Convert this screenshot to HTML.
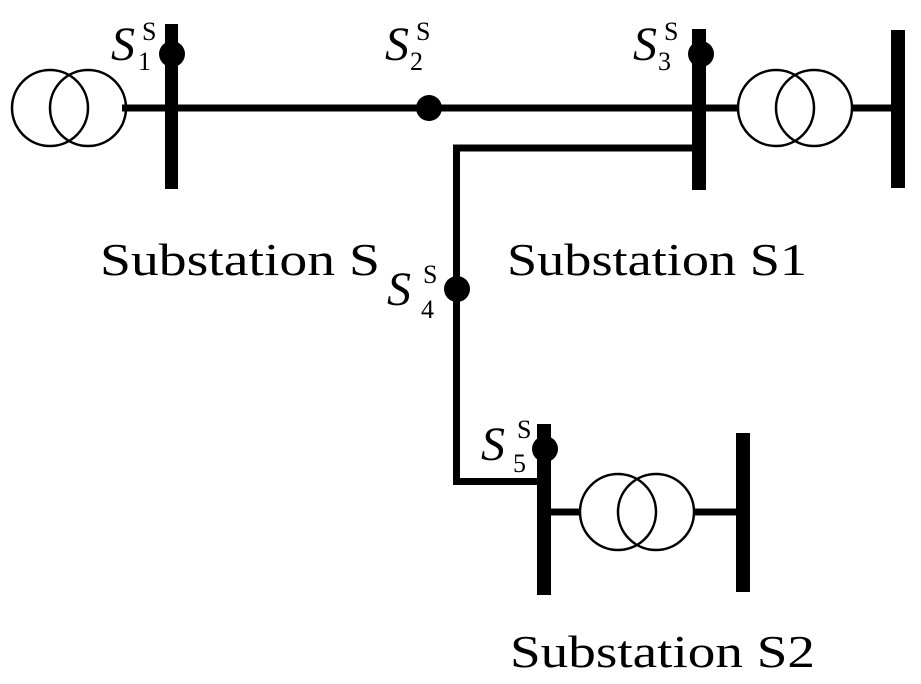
<!DOCTYPE html>
<html><head><style>body{margin:0;background:#fff}svg{display:block}</style></head><body>
<svg width="921" height="684" viewBox="0 0 921 684" xmlns="http://www.w3.org/2000/svg" font-family="Liberation Serif, serif">
<g fill="none" stroke="#000" stroke-width="2.5">
<circle cx="50" cy="108" r="38"/><circle cx="88" cy="108" r="38"/>
<circle cx="776" cy="108" r="38"/><circle cx="814" cy="108" r="38"/>
<circle cx="618" cy="512" r="38"/><circle cx="656" cy="512" r="38"/>
</g>
<g stroke="#000" stroke-width="7" fill="none">
<line x1="122" y1="108" x2="737" y2="108"/>
<line x1="852" y1="108" x2="893" y2="108"/>
<polyline points="692,148 456.5,148 456.5,481.5 540,481.5"/>
<line x1="550" y1="512" x2="581" y2="512"/>
<line x1="693" y1="512" x2="737" y2="512"/>
</g>
<g fill="#000">
<rect x="165" y="24" width="13" height="165"/>
<rect x="692" y="29" width="14" height="161"/>
<rect x="891" y="30" width="14" height="158"/>
<rect x="537" y="424" width="14" height="171"/>
<rect x="736" y="433" width="14" height="159"/>
<circle cx="172" cy="54" r="13"/>
<circle cx="429" cy="108" r="13"/>
<circle cx="701" cy="54" r="13"/>
<circle cx="457" cy="289" r="13"/>
<circle cx="545" cy="449" r="13"/>
</g>
<g fill="#000">
<text x="111" y="60" font-size="48" font-style="italic">S</text><text x="142" y="40" font-size="26">S</text><text x="138" y="70" font-size="26">1</text>
<text x="385" y="60" font-size="48" font-style="italic">S</text><text x="416" y="40" font-size="26">S</text><text x="410" y="70" font-size="26">2</text>
<text x="633" y="60" font-size="48" font-style="italic">S</text><text x="664" y="40" font-size="26">S</text><text x="658" y="70" font-size="26">3</text>
<text x="387" y="305" font-size="48" font-style="italic">S</text><text x="423" y="283" font-size="26">S</text><text x="421" y="318" font-size="26">4</text>
<text x="481" y="460" font-size="48" font-style="italic">S</text><text x="517" y="438" font-size="26">S</text><text x="513" y="472" font-size="26">5</text>
<text x="100" y="275" font-size="46" textLength="280" lengthAdjust="spacingAndGlyphs">Substation S</text>
<text x="507" y="275" font-size="46" textLength="300" lengthAdjust="spacingAndGlyphs">Substation S1</text>
<text x="510" y="667" font-size="46" textLength="305" lengthAdjust="spacingAndGlyphs">Substation S2</text>
</g>
</svg>
</body></html>
